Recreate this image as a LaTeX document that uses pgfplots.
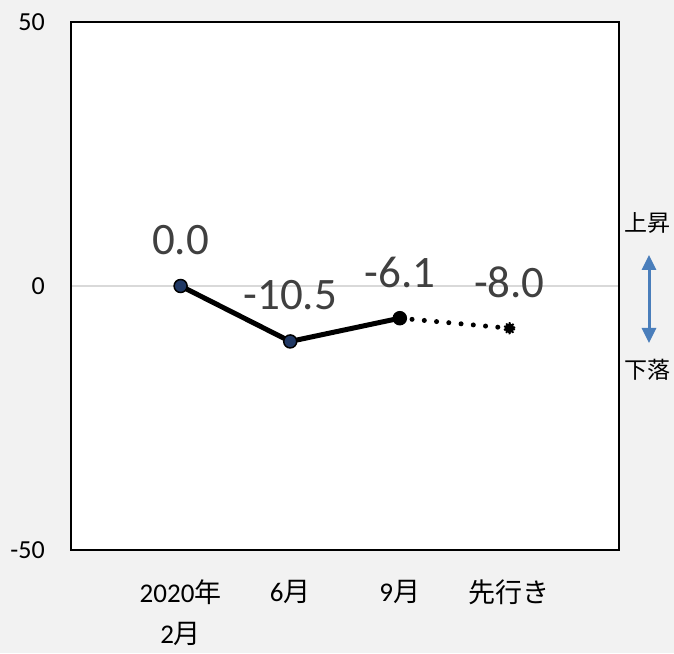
\documentclass[border=0pt]{standalone}
\usepackage{fontspec}
\usepackage{pgfplots}
\pgfplotsset{compat=1.18}
\usetikzlibrary{arrows.meta}
\setmainfont{Carlito}
\newfontfamily\jp{Noto Sans CJK JP}
\definecolor{bg}{HTML}{F2F2F2}
\definecolor{gridgray}{HTML}{D9D9D9}
\definecolor{navy}{HTML}{203864}
\definecolor{labelgray}{HTML}{404040}
\definecolor{arrowblue}{HTML}{4A7EBB}
\begin{document}
\begin{tikzpicture}[x=1pt,y=1pt]
\useasboundingbox (0,0) rectangle (674,653);
\fill[bg] (0,0) rectangle (674,653);
\begin{axis}[
  at={(71pt,103pt)}, anchor=south west,
  width=548pt, height=528pt, scale only axis,
  xmin=-1, xmax=4, ymin=-50, ymax=50,
  xtick={0,1,2,3},
  xticklabels={{2020{\jp 年}\\2{\jp 月}}, 6{\jp 月}, 9{\jp 月}, {\jp 先行き}},
  ytick={-50,0,50},
  ymajorgrids,
  grid style={color=gridgray, line width=1.5pt},
  axis line style={black, line width=1.5pt},
  major tick length=0pt,
  tick label style={font=\fontsize{26}{44}\selectfont, black},
  xticklabel style={font=\fontsize{27}{41}\selectfont, align=center, anchor=north, inner sep=0pt, yshift=-30pt},
  yticklabel style={anchor=east, inner sep=0pt, xshift=-26pt},
  axis background/.style={fill=white},
  clip=false,
  /pgf/number format/assume math mode=true,
]
% observed values
\addplot[black, line width=5pt, mark=*, mark size=6.5pt,
  mark options={fill=navy, draw=black, line width=1.5pt, solid}]
  coordinates {(0,0) (1,-10.5) (2,-6.1)};
% outlook segment
\addplot[black, line width=5pt, line cap=round, dash pattern=on 0pt off 12.3pt]
  coordinates {(2,-6.1) (3,-8.0)};
\addplot[only marks, mark=*, mark size=6.5pt, black] coordinates {(2,-6.1)};
\addplot[only marks, mark=*, mark size=5pt,
  mark options={fill=black, draw=black, line width=2.2pt, dash pattern=on 1.6pt off 1.6pt}]
  coordinates {(3,-8.0)};
% value labels
\addplot[draw=none, mark=none,
  nodes near coords={\pgfmathprintnumber[fixed,zerofill,precision=1,assume math mode=true]{\pgfplotspointmeta}},
  every node near coord/.append style={anchor=center, yshift=46pt, inner sep=0pt,
    font=\fontsize{45}{54}\selectfont, text=labelgray}]
  coordinates {(0,0) (1,-10.5) (2,-6.1) (3,-8.0)};
\end{axis}
\draw[arrowblue, line width=3pt,
  {Triangle[width=14pt,length=15pt]}-{Triangle[width=14pt,length=15pt]}]
  (649,398) -- (649,310);
\node[font=\fontsize{23}{27}\selectfont\jp] at (647,430) {上昇};
\node[font=\fontsize{23}{27}\selectfont\jp] at (647,283) {下落};
\end{tikzpicture}
\end{document}
